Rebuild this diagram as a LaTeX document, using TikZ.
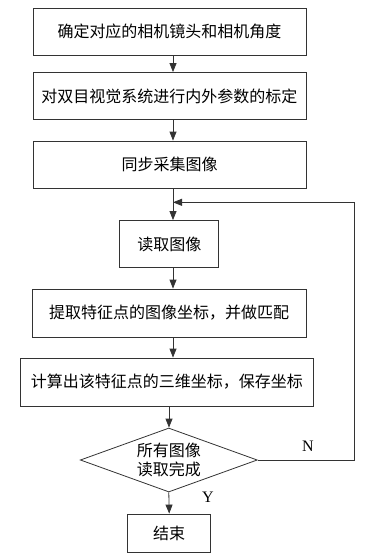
\documentclass[tikz,border=0pt]{standalone}
\usepackage{fontspec}
\setmainfont{Liberation Serif}
\newfontfamily\cjkfont{Noto Sans CJK SC}
\usetikzlibrary{shapes.geometric, positioning, arrows.meta}

\begin{document}
\begin{tikzpicture}[x=1pt, y=-1pt,
    box/.style={rectangle, draw=black!80, line width=0.8pt, inner sep=0pt,
        minimum height=47pt, align=center, font=\cjkfont\fontsize{16}{19.5}\selectfont},
    decision/.style={diamond, draw=black!80, line width=0.8pt, inner sep=0pt, aspect=2.77,
        minimum width=177pt, minimum height=64pt, align=center,
        font=\cjkfont\fontsize{16}{19.5}\selectfont},
    arrow/.style={-{Triangle[length=9pt,width=7pt]}, draw=black!80, line width=0.8pt},
    lbl/.style={font=\fontsize{16}{19}\selectfont}
]
    \useasboundingbox (0,0) rectangle (370,558);
    \node[box, minimum width=273pt] (b1) at (169.5,31.5) {确定对应的相机镜头和相机角度};
    \node[box, minimum width=273pt] (b2) at (169.5,96) {对双目视觉系统进行内外参数的标定};
    \node[box, minimum width=273pt] (b3) at (169.5,164.5) {同步采集图像};
    \node[box, minimum width=99pt] (b4) at (169.3,244) {读取图像};
    \node[box, minimum width=274pt, minimum height=48pt] (b5) at (169.2,313) {提取特征点的图像坐标，并做匹配};
    \node[box, minimum width=293pt, minimum height=48pt] (b6) at (166.8,382) {计算出该特征点的三维坐标，保存坐标};
    \node[decision] (d1) at (168.8,460) {所有图像\\读取完成};
    \node[box, minimum width=83pt, minimum height=38pt] (b7) at (169.2,533) {结束};
    \coordinate (join) at (173,202.3);
    \coordinate (rt) at (354,202.3);
    \draw[arrow] ([xshift=3.5pt]b1.south) -- ([xshift=3.5pt]b2.north);
    \draw[arrow] ([xshift=3.5pt]b2.south) -- ([xshift=3.5pt]b3.north);
    \draw[arrow] ([xshift=3.5pt]b3.south) -- ([xshift=3.7pt]b4.north);
    \draw[arrow] ([xshift=3.7pt]b4.south) -- ([xshift=3.8pt]b5.north);
    \draw[arrow] ([xshift=3.8pt]b5.south) -- ([xshift=6.2pt]b6.north);
    \draw[arrow] ([xshift=2.2pt]b6.south) -- ([xshift=0.2pt]d1.north);
    \draw[arrow] (d1.south) -- (b7.north);
    \draw[arrow] (d1.east) -| (rt) -- (join);
    \node[lbl] (n) at (308,446.5) {N};
    \node[lbl] (y) at (208,497.5) {Y};
\end{tikzpicture}
\end{document}
